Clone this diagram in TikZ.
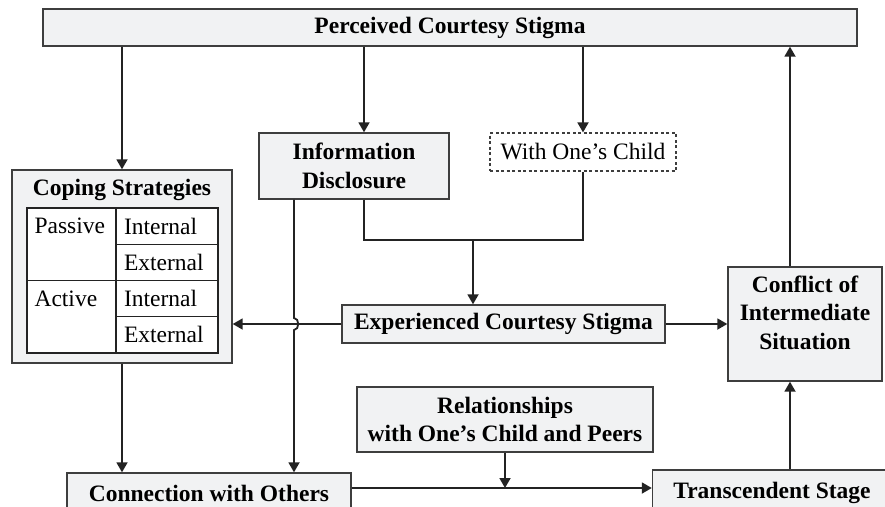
\documentclass[tikz,border=0pt]{standalone}
\usepackage{fontspec}
\setmainfont{Liberation Serif}
\usepackage{tikz}
\usetikzlibrary{arrows.meta,positioning,calc}
\usepackage{xcolor}
\definecolor{boxgray}{RGB}{241,242,243}
\definecolor{edgegray}{RGB}{62,62,62}
\definecolor{linedark}{RGB}{35,35,35}
\newcommand{\txtsize}{\fontsize{23.5}{28.5}\selectfont}

\begin{document}
\begin{tikzpicture}[x=1pt, y=-1pt, every node/.style={font=\txtsize},
  box/.style={draw=edgegray, line width=1.4pt, fill=boxgray, font=\txtsize\bfseries, align=center},
  cell/.style={draw=linedark, line width=1.2pt, fill=white, outer sep=0pt},
  celltxt/.style={cell, anchor=north west, text width=86pt, inner xsep=8pt, inner ysep=1pt, minimum height=36.25pt, align=left},
  arr/.style={draw=linedark, line width=1.8pt, -{Triangle[length=10pt,width=11pt]}},
  link/.style={draw=linedark, line width=1.8pt}]
\useasboundingbox (0,0) rectangle (885,506);
\clip (0,0) rectangle (885,506);

% boxes
\node[box, minimum width=814pt, minimum height=37pt] (perc) at (450,27.5) {Perceived Courtesy Stigma};
\node[box, minimum width=220pt, minimum height=193pt] (cope) at (122,266.5) {};
\node[font=\txtsize\bfseries] (copet) at (122,190) {Coping Strategies};
\node[box, minimum width=190pt, minimum height=66pt] (info) at (354,166) {Information\\Disclosure};
\node[draw=edgegray, line width=1.2pt, dash pattern=on 3pt off 2.5pt, minimum width=186pt, minimum height=38pt] (child) at (583,152) {With One’s Child};
\node[box, minimum width=323pt, minimum height=38pt] (exp) at (503.5,324) {Experienced Courtesy Stigma};
\node[box, minimum width=154pt, minimum height=114pt, text depth=23pt] (conf) at (805,324) {Conflict of\\Intermediate\\Situation};
\node[box, minimum width=296pt, minimum height=65pt] (rel) at (505,419.5) {Relationships\\with One’s Child and Peers};
\node[box, minimum width=284pt, minimum height=40pt] (conn) at (209,493) {Connection with Others};
\node[box, minimum width=239pt, minimum height=46pt] (trans) at (772,493) {Transcendent Stage};

% coping table
\node[cell, anchor=north west, minimum width=89pt, minimum height=72.5pt] (pas) at (27,208) {};
\node[cell, anchor=north west, minimum width=89pt, minimum height=72.5pt] (act) at (pas.south west) {};
\node[celltxt] (pin) at (pas.north east) {Internal};
\node[celltxt] (pex) at (pin.south west) {External};
\node[celltxt] (ain) at (pex.south west) {Internal};
\node[celltxt] (aex) at (ain.south west) {External};
\node[anchor=west, xshift=4pt] (past) at (pin.west -| pas.west) {Passive};
\node[anchor=west, xshift=4pt] (actt) at (ain.west -| act.west) {Active};

% connectors
\draw[arr] (perc.south -| cope.north) -- (cope.north);
\draw[arr] ([xshift=10pt]info.north |- perc.south) -- ([xshift=10pt]info.north);
\draw[arr] (perc.south -| child.north) -- (child.north);
\draw[arr] ([xshift=-15pt]conf.north) -- ([xshift=-15pt]conf.north |- perc.south);
\draw[arr] ([xshift=-15pt]conf.south |- trans.north) -- ([xshift=-15pt]conf.south);
\draw[link] ([xshift=10pt]info.south) -- ++(0,40) -| (child.south);
\coordinate (mid) at (473,239);
\draw[arr] (mid) -- (mid |- exp.north);
\draw[arr] (exp.west) -- (exp.west -| cope.east);
\draw[arr] (exp.east) -- (exp.east -| conf.west);
\path ([xshift=-60pt]info.south) coordinate (drop);
\coordinate (hop) at (drop |- exp.west);
\draw[arr] (drop) -- ($(hop)+(0,-6)$) to[out=0,in=0,looseness=1.2] ($(hop)+(0,6)$) -- (hop |- conn.north);
\draw[arr] (cope.south) -- (cope.south |- conn.north);
\coordinate (cline) at ([yshift=5pt]conn.east);
\draw[arr] (cline) -- (cline -| trans.west);
\draw[arr] (rel.south) -- (rel.south |- cline);
\end{tikzpicture}
\end{document}
